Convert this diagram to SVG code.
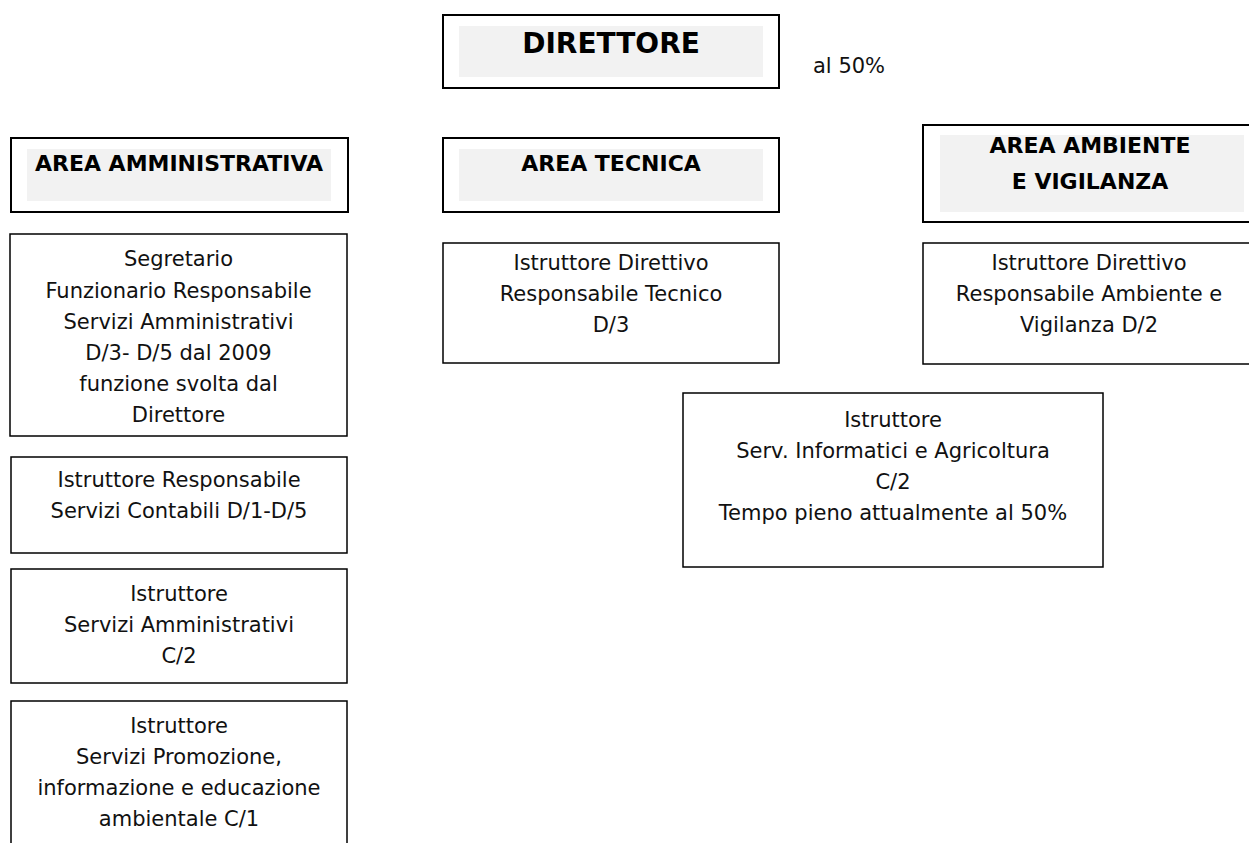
<svg xmlns="http://www.w3.org/2000/svg" width="1249" height="843" viewBox="0 0 1249 843">
<style>
.hdr{fill:#ffffff;stroke:#000;stroke-width:2}
.box{fill:#ffffff;stroke:#000;stroke-width:1.5}
.shade{fill:#f2f2f2;stroke:none}
.b{font-family:"DejaVu Sans","Verdana",sans-serif;font-weight:bold;font-size:22px;fill:#000;text-anchor:middle}
.big{font-size:28px}
.t{font-family:"DejaVu Sans","Verdana",sans-serif;font-size:21px;fill:#111;text-anchor:middle}
</style>
<rect width="1249" height="843" fill="#ffffff"/>
<g id="connectors"/>
<g id="direttore">
<rect class="hdr" x="443" y="15" width="336" height="73"/>
<rect class="shade" x="459" y="26" width="304" height="51"/>
<text class="b big" x="611" y="53">DIRETTORE</text>
</g>
<g id="nota-direttore">
<text class="t" x="813" y="73" style="text-anchor:start">al 50%</text>
</g>
<g id="area-amministrativa">
<rect class="hdr" x="11" y="138" width="337" height="74"/>
<rect class="shade" x="27" y="149" width="304" height="52"/>
<text class="b" x="179" y="171">AREA AMMINISTRATIVA</text>
</g>
<g id="area-tecnica">
<rect class="hdr" x="443" y="138" width="336" height="74"/>
<rect class="shade" x="459" y="149" width="304" height="52"/>
<text class="b" x="611" y="171">AREA TECNICA</text>
</g>
<g id="area-ambiente">
<rect class="hdr" x="923" y="125" width="340" height="97"/>
<rect class="shade" x="940" y="135" width="304" height="77"/>
<text class="b" x="1090" y="152.5">AREA AMBIENTE</text>
<text class="b" x="1090" y="189">E VIGILANZA</text>
</g>
<g id="segretario">
<rect class="box" x="10" y="234" width="337" height="202"/>
<text class="t" x="178.5" y="266">Segretario</text>
<text class="t" x="178.5" y="297.5">Funzionario Responsabile</text>
<text class="t" x="178.5" y="329">Servizi Amministrativi</text>
<text class="t" x="178.5" y="360">D/3- D/5 dal 2009</text>
<text class="t" x="178.5" y="391">funzione svolta dal</text>
<text class="t" x="178.5" y="422">Direttore</text>
</g>
<g id="istruttore-contabili">
<rect class="box" x="11" y="457" width="336" height="96"/>
<text class="t" x="179" y="487">Istruttore Responsabile</text>
<text class="t" x="179" y="518">Servizi Contabili D/1-D/5</text>
</g>
<g id="istruttore-amministrativi">
<rect class="box" x="11" y="569" width="336" height="114"/>
<text class="t" x="179" y="601">Istruttore</text>
<text class="t" x="179" y="632">Servizi Amministrativi</text>
<text class="t" x="179" y="663">C/2</text>
</g>
<g id="istruttore-promozione">
<rect class="box" x="11" y="701" width="336" height="160"/>
<text class="t" x="179" y="733">Istruttore</text>
<text class="t" x="179" y="764">Servizi Promozione,</text>
<text class="t" x="179" y="795">informazione e educazione</text>
<text class="t" x="179" y="826">ambientale C/1</text>
</g>
<g id="istruttore-tecnico">
<rect class="box" x="443" y="243" width="336" height="120"/>
<text class="t" x="611" y="270">Istruttore Direttivo</text>
<text class="t" x="611" y="301">Responsabile Tecnico</text>
<text class="t" x="611" y="332">D/3</text>
</g>
<g id="istruttore-ambiente">
<rect class="box" x="923" y="243" width="340" height="121"/>
<text class="t" x="1089" y="270">Istruttore Direttivo</text>
<text class="t" x="1089" y="301">Responsabile Ambiente e</text>
<text class="t" x="1089" y="332">Vigilanza D/2</text>
</g>
<g id="istruttore-informatici">
<rect class="box" x="683" y="393" width="420" height="174"/>
<text class="t" x="893" y="427">Istruttore</text>
<text class="t" x="893" y="458">Serv. Informatici e Agricoltura</text>
<text class="t" x="893" y="489">C/2</text>
<text class="t" x="893" y="520">Tempo pieno attualmente al 50%</text>
</g>
</svg>
